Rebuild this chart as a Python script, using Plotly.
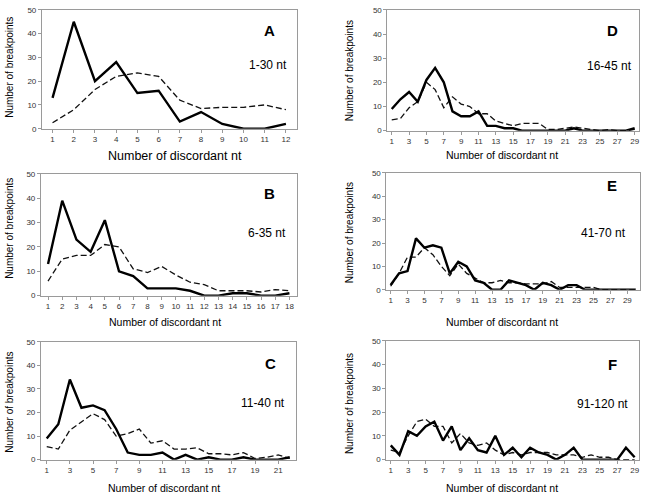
import plotly.graph_objects as go

W, H = 645, 499

# ---------------- data ----------------
a_x = list(range(1, 13))
a_solid = [13, 45, 20, 28, 15, 16, 3, 7, 2, 0, 0, 2]
a_dash = [2.5, 8, 16.5, 22, 23.5, 22, 12, 8.5, 9, 9, 10, 8]

b_x = list(range(1, 19))
b_solid = [13, 39, 23, 18, 31, 10, 8, 3, 3, 3, 2, 0, 0, 1, 1, 0, 0, 1]
b_dash = [6, 15, 16.5, 16.5, 21, 20, 11, 9.5, 12, 8.5, 5.5, 4.5, 2, 2, 2, 1.5, 2.5, 2]

c_x = list(range(1, 23))
c_solid = [9, 15, 34, 22, 23, 21, 13, 3, 2, 2, 3, 0, 2, 0, 1, 0, 0, 1, 0, 0, 0, 1]
c_dash = [5.5, 4.5, 12.5, 16, 19.5, 17, 10, 11, 13, 7, 8, 4.5, 4.5, 5, 2.5, 2.5, 2, 3, 0.5, 1, 2, 0.5]

d_x = list(range(1, 30))
d_solid = [9, 13, 16, 12, 21, 26, 20, 8, 6, 6, 8, 2, 2, 1, 1, 0, 0, 0, 0, 0, 0, 1, 0, 0, 0, 0, 0, 0, 1]
d_dash = [4.5, 5, 9.5, 12, 20, 17, 9.5, 14, 11, 10, 7, 7, 4, 3, 2, 3, 3, 3, 0.5, 0.5, 1, 1.5, 1, 0.5, 0, 0.5, 0, 0, 0.5]

e_x = list(range(1, 31))
e_solid = [2, 7, 8, 22, 18, 19, 18, 7, 12, 10, 4, 3, 0, 0, 4, 3, 2, 0, 3, 2, 0, 2, 2, 0, 0, 0, 0, 0, 0, 0]
e_dash = [1.5, 7, 14, 14, 18, 15, 10, 6, 11, 7, 5, 3, 3, 4, 3, 3, 2.5, 2.5, 2.5, 3.5, 1, 1, 1, 1, 1, 0, 0, 0, 0, 0]

f_x = list(range(1, 30))
f_solid = [6, 2, 12, 10, 14, 16, 8, 14, 4, 9, 4, 3, 10, 2, 5, 1, 5, 3, 2, 0, 2, 5, 0, 0, 0, 0, 0, 5, 1]
f_dash = [4, 3, 10, 16, 17, 14, 14, 7, 11, 7, 6, 7, 4, 2, 3, 2, 3, 3, 3, 2, 2, 2, 1, 2, 1, 1, 0, 0, 0]

panel_letters = ["A", "B", "C", "D", "E", "F"]
panel_ranges = ["1-30 nt", "6-35 nt", "11-40 nt", "16-45 nt", "41-70 nt", "91-120 nt"]
y_ticks = [0, 10, 20, 30, 40, 50]
x_title = "Number of discordant nt"
y_title = "Number of breakpoints"

# ---------------- layout (pixels) ----------------
boxes = [
    (42, 297, 6, 127),
    (41, 297, 173, 297),
    (41, 296, 344, 464),
    (388, 640, 6, 129),
    (387, 641, 172, 291),
    (387, 640, 343, 464),
]
xs = [a_x, b_x, c_x, d_x, e_x, f_x]
solids = [a_solid, b_solid, c_solid, d_solid, e_solid, f_solid]
dashes = [a_dash, b_dash, c_dash, d_dash, e_dash, f_dash]
tick_steps = [1, 1, 2, 2, 2, 2]
letter_pos = [(270, 27), (270, 193), (271, 366), (613, 27), (613, 185), (613, 367)]
range_pos = [(268, 62), (267, 233), (263, 406), (610, 63), (604, 233), (603, 407)]
xtitle_pos = [(175, 155), (165, 324), (164, 493), (503, 154), (503, 324), (503, 493)]
xtitle_size = [12.5, 10.5, 10.5, 10.5, 10.5, 10.5]
ytitle_pos = [(10, 64), (10, 228), (10, 405), (350, 68), (350, 233), (350, 407)]

FONT = "Liberation Sans, Arial, sans-serif"

fig = go.Figure()
annotations = []
layout = {}
for i in range(6):
    l, r, t, b = boxes[i]
    n = i + 1
    xa = "xaxis" if n == 1 else f"xaxis{n}"
    ya = "yaxis" if n == 1 else f"yaxis{n}"
    xr = "x" if n == 1 else f"x{n}"
    yr = "y" if n == 1 else f"y{n}"
    xv = xs[i]
    fig.add_trace(go.Scatter(x=xv, y=dashes[i], mode="lines", xaxis=xr, yaxis=yr,
                             line=dict(color="#111", width=1.3, dash="6px,3px"),
                             showlegend=False, hoverinfo="skip"))
    fig.add_trace(go.Scatter(x=xv, y=solids[i], mode="lines", xaxis=xr, yaxis=yr,
                             line=dict(color="#000", width=2.4),
                             showlegend=False, hoverinfo="skip"))
    tv = xv[::tick_steps[i]]
    layout[xa] = dict(domain=[l / W, r / W], range=[0.5, len(xv) + 0.5],
                      anchor=yr, tickmode="array", tickvals=tv, ticktext=[str(v) for v in tv],
                      showgrid=False, zeroline=False, showline=True, linecolor="#9a9a9a",
                      linewidth=1, mirror=True, ticks="outside", ticklen=3, tickcolor="#9a9a9a",
                      ticklabeloverflow="allow",
                      tickfont=dict(size=8, color="#333", family=FONT))
    layout[ya] = dict(domain=[1 - b / H, 1 - t / H], range=[0, 50], anchor=xr,
                      tickvals=y_ticks, showgrid=False, zeroline=False, showline=True,
                      linecolor="#9a9a9a", linewidth=1, mirror=True, ticks="outside",
                      ticklen=3, tickcolor="#9a9a9a",
                      tickfont=dict(size=8, color="#333", family=FONT))
    lx, ly = letter_pos[i]
    annotations.append(dict(x=lx / W, y=1 - ly / H, xref="paper", yref="paper",
                            xanchor="center", yanchor="middle",
                            text=f"<b>{panel_letters[i]}</b>", showarrow=False,
                            font=dict(size=15, color="#000", family=FONT)))
    rx, ry = range_pos[i]
    annotations.append(dict(x=rx / W, y=1 - ry / H, xref="paper", yref="paper",
                            xanchor="center", yanchor="middle",
                            text=panel_ranges[i], showarrow=False,
                            font=dict(size=12, color="#000", family=FONT)))
    tx, ty = xtitle_pos[i]
    annotations.append(dict(x=tx / W, y=1 - ty / H, xref="paper", yref="paper",
                            xanchor="center", yanchor="middle",
                            text=x_title, showarrow=False,
                            font=dict(size=xtitle_size[i], color="#000", family=FONT)))
    yx, yy = ytitle_pos[i]
    annotations.append(dict(x=yx / W, y=1 - yy / H, xref="paper", yref="paper",
                            xanchor="center", yanchor="middle",
                            text=y_title, showarrow=False, textangle=-90,
                            font=dict(size=10, color="#000", family=FONT)))

fig.update_layout(width=W, height=H, margin=dict(l=0, r=0, t=0, b=0),
                  paper_bgcolor="white", plot_bgcolor="white",
                  annotations=annotations, **layout)

fig.write_html("out.html", config={"displayModeBar": False},
               post_script="document.body.style.margin='0';document.body.style.overflow='hidden';")
